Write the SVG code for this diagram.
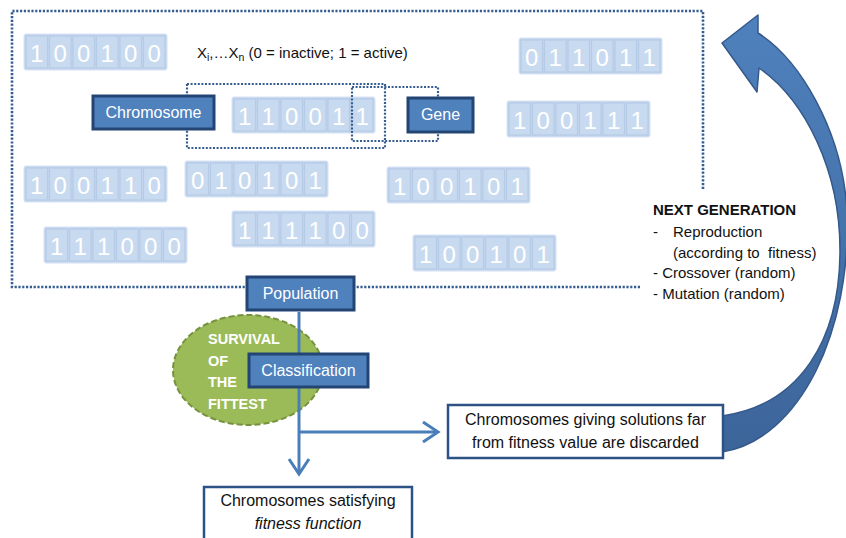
<svg xmlns="http://www.w3.org/2000/svg" xmlns:xlink="http://www.w3.org/1999/xlink" width="846" height="538" viewBox="0 0 846 538">
<defs>
<style>
text{font-family:"Liberation Sans",Arial,sans-serif}
.frame{fill:none;stroke:#355d91;stroke-width:2.6;stroke-dasharray:2.2 1.6}
.sel{fill:none;stroke:#355d91;stroke-width:2.2;stroke-dasharray:2 1.6}
.strip{fill:#c3d5ee;stroke:#d6e2f3;stroke-width:1}
.cell{fill:#c8daf0;stroke:#b6cbe6;stroke-width:1.2}
.dig{fill:#ffffff;font-size:24px;text-anchor:middle}
.node rect{fill:#4f81bd;stroke:#234574;stroke-width:3}
.node text{fill:#ffffff;font-size:16px;text-anchor:middle}
.box rect{fill:#ffffff;stroke:#2d5386;stroke-width:2.5}
.box text{fill:#111;font-size:16px;text-anchor:middle}
.conn{fill:none;stroke:#4a7ebb;stroke-width:3}
.lbl{fill:#111;font-size:15px}
.surv{fill:#ffffff;font-weight:bold;font-size:14.5px}
</style>
<g id="cells">
<rect class="strip" x="0" y="0" width="143" height="36" rx="2"/>
<rect class="cell" x="2" y="2" width="21.5" height="32"/>
<rect class="cell" x="25.5" y="2" width="21.5" height="32"/>
<rect class="cell" x="49" y="2" width="21.5" height="32"/>
<rect class="cell" x="72.5" y="2" width="21.5" height="32"/>
<rect class="cell" x="96" y="2" width="21.5" height="32"/>
<rect class="cell" x="119.5" y="2" width="21.5" height="32"/>
</g>
<marker id="chev" markerUnits="userSpaceOnUse" markerWidth="20" markerHeight="24" viewBox="0 0 20 24" refX="17" refY="12" orient="auto">
<path d="M2,2 L17,12 L2,22" fill="none" stroke="#4a7ebb" stroke-width="3"/>
</marker>
<linearGradient id="arrowGrad" x1="0" y1="0" x2="0" y2="1">
<stop offset="0" stop-color="#4f81bd"/>
<stop offset="1" stop-color="#3c659a"/>
</linearGradient>
</defs>

<rect width="846" height="538" fill="#ffffff"/>

<g id="population-frame">
<path class="frame" d="M640 287 H12 V11 H703 V190"/>
</g>

<g id="strings">
<g id="s1" transform="translate(24,34)"><use xlink:href="#cells"/><text class="dig" x="12.75 36.25 59.75 83.25 106.75 130.25" y="28">100100</text></g>
<g id="s2" transform="translate(519,38)"><use xlink:href="#cells"/><text class="dig" x="12.75 36.25 59.75 83.25 106.75 130.25" y="28">011011</text></g>
<g id="s3" transform="translate(232,97)"><use xlink:href="#cells"/><text class="dig" x="12.75 36.25 59.75 83.25 106.75 130.25" y="28">110011</text></g>
<g id="s4" transform="translate(507,101)"><use xlink:href="#cells"/><text class="dig" x="12.75 36.25 59.75 83.25 106.75 130.25" y="28">100111</text></g>
<g id="s5" transform="translate(24,166)"><use xlink:href="#cells"/><text class="dig" x="12.75 36.25 59.75 83.25 106.75 130.25" y="28">100110</text></g>
<g id="s6" transform="translate(185,161)"><use xlink:href="#cells"/><text class="dig" x="12.75 36.25 59.75 83.25 106.75 130.25" y="28">010101</text></g>
<g id="s7" transform="translate(387,167)"><use xlink:href="#cells"/><text class="dig" x="12.75 36.25 59.75 83.25 106.75 130.25" y="28">100101</text></g>
<g id="s8" transform="translate(44,227)"><use xlink:href="#cells"/><text class="dig" x="12.75 36.25 59.75 83.25 106.75 130.25" y="28">111000</text></g>
<g id="s9" transform="translate(232,211)"><use xlink:href="#cells"/><text class="dig" x="12.75 36.25 59.75 83.25 106.75 130.25" y="28">111100</text></g>
<g id="s10" transform="translate(413,235)"><use xlink:href="#cells"/><text class="dig" x="12.75 36.25 59.75 83.25 106.75 130.25" y="28">100101</text></g>
</g>

<g id="selections">
<rect class="sel" x="187" y="84" width="198" height="64"/>
<rect class="sel" x="352" y="87" width="86" height="54"/>
</g>

<g id="legend">
<text class="lbl" x="197" y="58" font-size="15.5">X<tspan font-size="10.5" dy="3">i</tspan><tspan dy="-3">,…X</tspan><tspan font-size="10.5" dy="3">n</tspan><tspan dy="-3"> (0 = inactive; 1 = active)</tspan></text>
</g>

<g id="chromosome" class="node"><rect x="93" y="96" width="121" height="33"/><text x="153.5" y="118">Chromosome</text></g>
<g id="gene" class="node"><rect x="408" y="98" width="65" height="34"/><text x="440.5" y="120">Gene</text></g>

<g id="next-generation-arrow">
<path d="M758 33 C800 60 842 130 847 210 C852 330 800 440 722 452 L716 452 L716 416 L722 416 C800 405 840 340 840 250 C840 170 805 100 759 68 L757 92 L722 43 L758 15 Z" fill="url(#arrowGrad)" stroke="#35598a" stroke-width="1.5" stroke-linejoin="round"/>
</g>

<g id="next-generation">
<text class="lbl" x="653" y="215" font-weight="bold" font-size="13.8">NEXT GENERATION</text>
<text class="lbl" x="653" y="237">-</text>
<text class="lbl" x="673" y="237">Reproduction</text>
<text class="lbl" x="673" y="258">(according to&#160; fitness)</text>
<text class="lbl" x="653" y="278">- Crossover (random)</text>
<text class="lbl" x="653" y="299">- Mutation (random)</text>
</g>

<g id="survival">
<ellipse cx="248" cy="370" rx="75" ry="55" fill="#9bbb59" stroke="#76923c" stroke-width="2" stroke-dasharray="6 3"/>
<text class="surv" x="208" y="344">SURVIVAL</text>
<text class="surv" x="208" y="366">OF</text>
<text class="surv" x="208" y="387">THE</text>
<text class="surv" x="208" y="409">FITTEST</text>
</g>

<g id="connectors">
<path class="conn" d="M299 312 V474" marker-end="url(#chev)"/>
<path class="conn" d="M299 432 H438" marker-end="url(#chev)"/>
</g>

<g id="population" class="node"><rect x="247" y="277" width="107" height="33"/><text x="300.5" y="299">Population</text></g>
<g id="classification" class="node"><rect x="249" y="354" width="119" height="33"/><text x="308.5" y="376">Classification</text></g>

<g id="discarded" class="box"><rect x="448" y="405" width="275" height="53"/><text x="585.5" y="425">Chromosomes giving solutions far</text><text x="585.5" y="448">from fitness value are discarded</text></g>

<g id="satisfying" class="box"><rect x="204" y="487" width="208" height="60"/><text x="308" y="506">Chromosomes satisfying</text><text x="308" y="529" font-style="italic">fitness function</text></g>
</svg>
